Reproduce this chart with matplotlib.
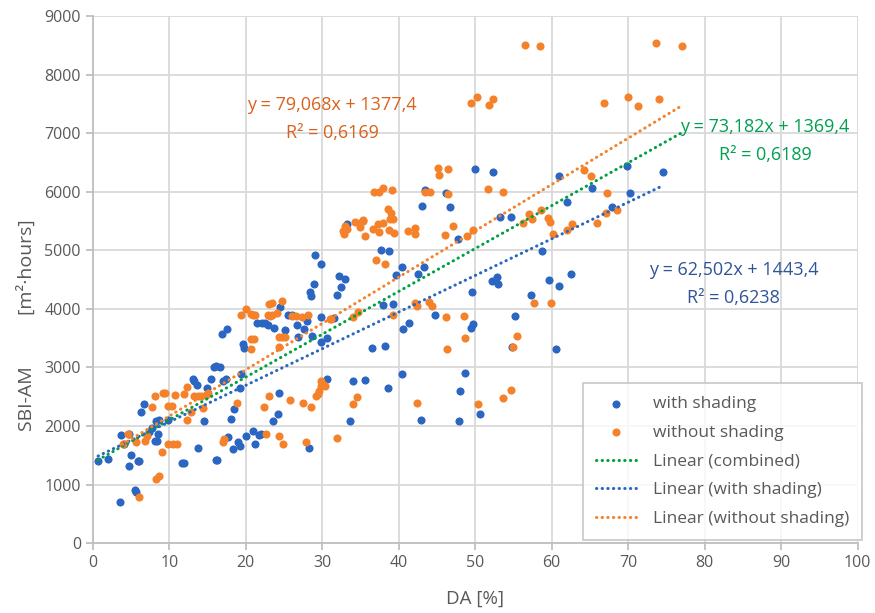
import matplotlib
matplotlib.use("Agg")
import matplotlib.pyplot as plt
import numpy as np

plt.rcParams['font.family'] = ['Open Sans', 'DejaVu Sans']

# DA [%] and SBI-AM [m²·hours] for the cases with shading
shade_da = [0.7, 2.0, 3.5, 3.7, 4.1, 4.8, 5.0, 4.8, 5.9, 6.1, 5.5, 5.7, 6.3, 6.7, 7.4, 7.7,
            8.1, 8.4, 8.3, 8.6, 8.5, 9.8,
            11.7, 11.9, 13.1, 13.3, 13.6, 13.7, 14.6, 15.0, 15.5, 15.8, 16.1, 16.6, 16.1, 16.3,
            16.9, 17.5, 17.0, 17.4, 17.7, 18.1, 18.5, 18.4, 19.0, 19.3, 19.4, 19.6, 19.8, 19.3,
            20.1, 21.0, 21.2, 21.7, 21.5, 22.1, 22.5, 22.9, 23.7, 24.5, 25.5, 26.0, 25.2, 26.7,
            27.6, 28.0, 28.7, 26.9, 29.8, 29.8, 24.3, 24.2, 23.6, 22.0, 28.3, 29.1, 29.8, 28.9,
            28.4, 28.5,
            30.6, 31.5, 30.6, 32.2, 33.0, 32.5, 32.0, 33.3, 34.0, 35.6, 33.6, 36.5, 38.2, 37.7,
            38.8, 37.9, 39.3, 38.6, 39.7, 40.5,
            40.4, 40.6, 41.3, 42.9, 42.5, 43.3, 43.5, 46.2, 43.1, 46.7, 47.8, 44.7, 49.6, 47.9,
            48.0, 48.7, 49.4, 49.7, 50.6,
            50.0, 52.3, 53.3, 54.7, 52.2, 52.8, 53.0, 55.2, 54.8, 57.3, 58.7, 59.6, 61.0, 62.6,
            60.6, 62.0, 61.0,
            65.3, 67.9, 69.9, 70.3, 74.6]
shade_sbi = [1400, 1430, 700, 1840, 1690, 1870, 1500, 1310, 1400, 1400, 900, 870, 2230, 2370, 1890, 1970,
             1740, 1740, 2090, 2110, 1860, 2100,
             1360, 1360, 2800, 2770, 2700, 1620, 2090, 2650, 2800, 3000, 3030, 3010, 1420, 1420,
             3570, 3650, 2770, 2800, 1820, 2120, 2290, 1600, 1730, 1650, 2890, 3400, 3330, 2640,
             1830, 1920, 1690, 1840, 3750, 3760, 3750, 3730, 3670, 4030, 3890, 3890, 3630, 3730,
             3660, 3800, 3540, 3520, 3860, 3440, 2570, 2210, 2080, 1870, 1630, 4920, 4770, 4420,
             4290, 4220,
             3500, 3850, 2810, 4560, 4510, 4380, 4240, 5440, 2770, 2790, 2090, 3330, 3370, 5010,
             4990, 4070, 4080, 2640, 4580, 4710,
             2880, 3660, 3750, 2100, 4590, 4720, 6020, 5970, 5760, 5740, 5200, 3890, 4290, 2080,
             2590, 2900, 3670, 3740, 2210,
             6380, 6330, 5560, 5570, 4470, 4540, 4430, 3870, 3350, 4230, 4990, 4500, 4390, 4590,
             3310, 5820, 6270,
             6060, 5730, 6430, 5970, 6330]

# DA [%] and SBI-AM [m²·hours] for the cases without shading
open_da = [3.9, 4.6, 5.7, 6.0, 6.8, 7.1, 7.7, 8.1, 8.3, 8.6, 9.0, 9.2, 9.5, 9.8, 10.3, 9.8,
           10.5, 11.0, 10.7, 11.9, 12.3, 12.3, 12.8, 13.3, 13.8, 14.2, 14.4, 14.8, 15.1, 17.0,
           17.2, 18.9, 19.4, 20.1, 20.7, 20.9, 20.7, 21.1, 20.7,
           23.1, 23.5, 24.8, 22.9, 23.2, 23.5, 24.1, 21.2, 26.1, 26.6, 27.4, 28.2, 24.3, 24.7,
           25.1, 24.3, 23.1, 22.4, 22.7, 24.4, 24.9, 25.8, 27.5, 28.6, 27.9, 29.2, 29.4, 29.6,
           29.9, 30.2, 29.8, 30.4,
           31.9, 34.0, 34.6, 34.0, 34.7, 31.0, 31.2, 32.7, 33.0, 33.3, 32.9, 34.3, 34.9, 35.4,
           35.6, 35.0, 35.4, 36.7, 37.3, 37.4, 38.0, 38.7, 39.4, 36.8, 37.4, 38.0, 39.1, 38.6,
           39.0, 38.9, 39.3, 37.1, 38.2, 39.3,
           41.2, 42.2, 42.2, 42.2, 42.4, 44.0, 44.4, 42.4, 43.4, 44.1, 45.2, 46.4, 45.3, 46.4,
           46.1, 47.1, 48.9, 49.7, 46.2, 48.5, 48.7, 46.3, 49.4, 50.2, 51.8, 52.3,
           51.7, 53.6, 50.4, 53.6, 54.7, 55.5, 55.0, 56.3, 56.5, 58.5, 57.7, 59.9, 57.0, 57.4,
           58.6, 59.5, 59.8, 60.2, 62.0, 62.7,
           64.2, 65.2, 67.3, 65.9, 67.1, 68.6, 66.9, 70.0, 71.3, 74.1, 73.7, 77.0]
open_sbi = [1690, 1860, 1730, 780, 1740, 1830, 2330, 2510, 1090, 1140, 1560, 2570, 2570, 2340, 2340, 1700,
            1700, 1700, 2530, 2540, 2670, 2100, 2240, 2510, 2510, 2510, 2310, 2530, 2560, 1730,
            1770, 2400, 3900, 3990, 3920, 3900, 3490, 3490, 3320,
            4080, 4100, 4130, 3890, 3880, 3890, 3930, 3900, 3880, 3880, 3860, 3890, 3520, 3520,
            3520, 3340, 2510, 2330, 1860, 1830, 1700, 2440, 2400, 2330, 1730, 2510, 2550, 2600,
            2680, 2700, 2760, 2680,
            1800, 2370, 2500, 3860, 3940, 3820, 3820, 5320, 5410, 5360, 5280, 5480, 5460, 5510,
            5240, 5400, 5500, 5370, 5440, 5310, 5460, 5350, 5290, 6000, 6000, 6070, 6030, 5700,
            5630, 5540, 5540, 4830, 4770, 3890,
            5330, 5380, 5270, 4100, 4040, 4110, 4050, 2400, 6000, 5990, 6400, 6380, 6290, 5960,
            5260, 5410, 5240, 5350, 3860, 3870, 3500, 3320, 7520, 7610, 7480, 7590,
            6040, 5990, 2380, 2470, 2620, 3540, 3340, 5460, 8510, 8490, 4100, 4100, 5620, 5530,
            5680, 5550, 5490, 5270, 5340, 5450,
            6370, 6270, 5980, 5460, 5640, 5690, 7510, 7620, 7470, 7580, 8530, 8490]

# linear trend lines (slope, intercept) and their R²
fit_all = (73.182, 1369.4, 0.6189)
fit_shade = (62.502, 1443.4, 0.6238)
fit_open = (79.068, 1377.4, 0.6169)

blue = '#2a66c2'
orange = '#f5822a'
green = '#00a040'
grey = '#595959'

fig = plt.figure(figsize=(8.75, 6.13), dpi=100)
ax = fig.add_axes([0.106, 0.114, 0.874, 0.860])

ax.scatter(shade_da, shade_sbi, s=34, color=blue, linewidths=0, zorder=3, label='with shading')
ax.scatter(open_da, open_sbi, s=34, color=orange, linewidths=0, zorder=4, label='without shading')


def trend(fit, xs, color, label):
    x = np.array([min(xs), max(xs)])
    ax.plot(x, fit[0] * x + fit[1], color=color, lw=2.2, linestyle=(0, (0.1, 1.75)),
            dash_capstyle='round', zorder=5, label=label)


trend(fit_all, shade_da + open_da, green, 'Linear (combined)')
trend(fit_shade, shade_da, blue, 'Linear (with shading)')
trend(fit_open, open_da, orange, 'Linear (without shading)')


def eq_text(fit, x, y, color):
    s = 'y = {:,.3f}x + {:,.1f}\nR² = {:,.4f}'.format(fit[0], fit[1], fit[2])
    s = s.replace(',', '').replace('.', ',')
    ax.text(x, y, s, color=color, fontsize=13, ha='center', va='center',
            multialignment='center', linespacing=1.7, zorder=6)


eq_text(fit_open, 31.3, 7240, '#d9621c')
eq_text(fit_all, 87.9, 6860, '#00a050')
eq_text(fit_shade, 83.8, 4420, '#2f5597')

ax.set_xlim(0, 100)
ax.set_ylim(0, 9000)
ax.set_xticks(np.arange(0, 101, 10))
ax.set_yticks(np.arange(0, 9001, 1000))
ax.grid(True, color='#d9d9d9', lw=1.3)
ax.set_axisbelow(True)
for side in ['top', 'right']:
    ax.spines[side].set_visible(False)
for side in ['left', 'bottom']:
    ax.spines[side].set_color('#bfbfbf')
    ax.spines[side].set_linewidth(1.3)
ax.tick_params(colors='#bfbfbf', labelcolor=grey, labelsize=11.5, length=5, width=1.3)

ax.set_xlabel('DA [%]', fontsize=13.5, color=grey)
ax.xaxis.set_label_coords(0.5, -0.088)
ax.set_ylabel('SBI-AM          [m²·hours]', fontsize=14, color=grey)
ax.yaxis.set_label_coords(-0.074, 0.413)

leg = ax.legend(loc='lower right', bbox_to_anchor=(1.006, 0.006), fontsize=12.5,
                frameon=True, fancybox=False, edgecolor='#bfbfbf', borderpad=0.75,
                labelspacing=0.72, handlelength=2.4, handletextpad=0.9, borderaxespad=0)
leg.get_frame().set_linewidth(1.3)
for t in leg.get_texts():
    t.set_color(grey)

fig.savefig('out.png', dpi=100)
